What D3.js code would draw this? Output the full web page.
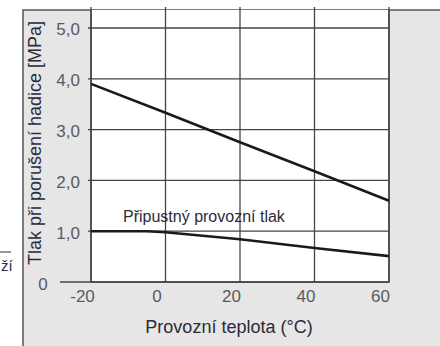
<!DOCTYPE html>
<meta charset="utf-8">
<html>
<head>
<style>
  body { margin: 0; background: #fff; }
  text { font-family: "Liberation Sans", Arial, sans-serif; }
</style>
</head>
<body>
<div id="chart"></div>
<script src="https://d3js.org/d3.v7.min.js"></script>
<script>

  // values
  var tempTicks = [-20, 0, 20, 40, 60];
  var pressTicks = [0, 1, 2, 3, 4, 5];

  // burst pressure of the hose
  var burstTemp = [-20, 0, 20, 40, 60];
  var burstPress = [3.9, 3.33, 2.75, 2.18, 1.6];

  // allowed working pressure
  var workTemp = [-20, -5, 0, 20, 40, 60];
  var workPress = [1.0, 1.0, 0.98, 0.84, 0.67, 0.51];

  var xTitle = "Provozní teplota (°C)";
  var yTitle = "Tlak při porušení hadice [MPa]";
  var workLabel = "Připustný provozní tlak";

  var W = 440, H = 346;
  var plot = {left: 91, right: 389, top: 10, bottom: 282};

  var svg = d3.select("#chart").append("svg")
      .attr("width", W)
      .attr("height", H);

  // grey panel behind the chart
  svg.append("rect")
      .attr("x", 23).attr("y", 10)
      .attr("width", W - 23).attr("height", H - 10)
      .attr("fill", "#e6e6e6");
  svg.append("path")
      .attr("d", "M23," + H + "V10H" + W)
      .attr("fill", "none")
      .attr("stroke", "#555")
      .attr("stroke-width", 1.5);

  // scraps from the neighbouring figure on the left
  svg.append("line")
      .attr("x1", 0).attr("x2", 11).attr("y1", 252).attr("y2", 252)
      .attr("stroke", "#333").attr("stroke-width", 1);
  svg.append("text")
      .attr("x", 1).attr("y", 271)
      .attr("font-size", 15).attr("fill", "#2d2d4a")
      .text("ží");

  var x = d3.scaleLinear().domain([-20, 60]).range([plot.left, plot.right]);
  var y = d3.scaleLinear().domain([0, 5]).range([plot.bottom, 28]);

  // white plot area
  svg.append("rect")
      .attr("x", plot.left).attr("y", plot.top)
      .attr("width", plot.right - plot.left)
      .attr("height", plot.bottom - plot.top)
      .attr("fill", "#fff");

  var grid = svg.append("g")
      .attr("stroke", "#444")
      .attr("stroke-width", 1.3);

  // horizontal grid lines, with a short tick left of the frame
  grid.selectAll("line.h")
    .data(pressTicks.filter(function(d) { return d > 0; }))
    .join("line")
      .attr("x1", plot.left - 3).attr("x2", plot.right)
      .attr("y1", function(d) { return y(d); })
      .attr("y2", function(d) { return y(d); });

  // the 0 line reaches out to the left
  grid.append("line")
      .attr("x1", 60).attr("x2", plot.right)
      .attr("y1", y(0)).attr("y2", y(0));

  // vertical grid lines
  grid.selectAll("line.v")
    .data(tempTicks)
    .join("line")
      .attr("x1", function(d) { return x(d); })
      .attr("x2", function(d) { return x(d); })
      .attr("y1", plot.top - 3)
      .attr("y2", plot.bottom);

  // y axis labels
  var yAxis = svg.append("g")
      .attr("transform", "translate(" + plot.left + ",0)")
      .call(d3.axisLeft(y)
        .tickValues(pressTicks)
        .tickSize(0)
        .tickPadding(11)
        .tickFormat(function(d) { return d === 0 ? "0" : d3.format(".1f")(d).replace(".", ","); }));
  yAxis.select(".domain").remove();
  yAxis.selectAll("text")
      .attr("font-size", 17)
      .attr("fill", "#5a5a5a")
      .attr("dy", "0.4em")
      .style("font-family", "'Liberation Sans', Arial, sans-serif");
  // the zero sits further left
  yAxis.selectAll(".tick").filter(function(d) { return d === 0; })
    .select("text")
      .attr("x", 43 - plot.left)
      .attr("dy", "0.45em")
      .attr("text-anchor", "middle");

  // x axis labels
  var xAxis = svg.append("g")
      .attr("transform", "translate(0," + plot.bottom + ")")
      .call(d3.axisBottom(x)
        .tickValues(tempTicks)
        .tickSize(0)
        .tickPadding(8)
        .tickFormat(function(d) { return String(d); }));
  xAxis.select(".domain").remove();
  xAxis.selectAll("text")
      .attr("font-size", 17)
      .attr("fill", "#5a5a5a")
      .attr("dx", -9)
      .style("font-family", "'Liberation Sans', Arial, sans-serif");

  // frame of the plot (left, bottom, right)
  svg.append("path")
      .attr("d", "M" + plot.left + "," + plot.top + "V" + plot.bottom + "H" + plot.right + "V" + plot.top)
      .attr("fill", "none")
      .attr("stroke", "#444")
      .attr("stroke-width", 1.5);

  // data lines
  var line = d3.line()
      .x(function(d) { return x(d[0]); })
      .y(function(d) { return y(d[1]); });

  svg.append("path")
      .datum(d3.zip(burstTemp, burstPress))
      .attr("fill", "none")
      .attr("stroke", "#1a1a1a")
      .attr("stroke-width", 2.6)
      .attr("d", line);

  svg.append("path")
      .datum(d3.zip(workTemp, workPress))
      .attr("fill", "none")
      .attr("stroke", "#1a1a1a")
      .attr("stroke-width", 2.6)
      .attr("d", line);

  // texts
  svg.append("text")
      .attr("x", 123).attr("y", 222)
      .attr("font-size", 16)
      .attr("fill", "#2b2b3a")
      .text(workLabel);

  svg.append("text")
      .attr("x", 229).attr("y", 333)
      .attr("text-anchor", "middle")
      .attr("font-size", 18)
      .attr("fill", "#2b2b3a")
      .text(xTitle);

  svg.append("text")
      .attr("transform", "translate(41,143) rotate(-90)")
      .attr("text-anchor", "middle")
      .attr("font-size", 18)
      .attr("fill", "#2b2b3a")
      .text(yTitle);

</script>
</body>
</html>
